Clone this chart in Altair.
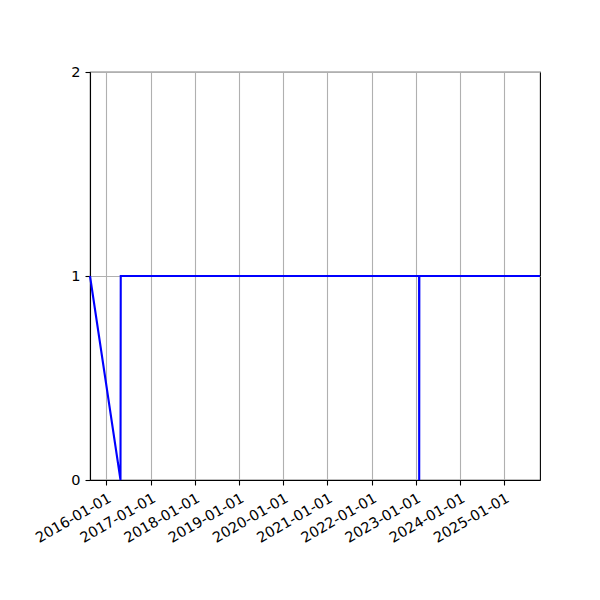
import altair as alt
import pandas as pd

dates = ["2015-08-19", "2016-04-27", "2016-04-29", "2023-01-28", "2023-01-29", "2023-01-30", "2025-10-23"]
values = [1, 0, 1, 1, 0, 1, 1]
tick_years = list(range(2016, 2026))

df = pd.DataFrame({"date": dates, "value": values})

x_ticks = [alt.DateTime(year=y, month=1, date=1, utc=True) for y in tick_years]

chart = alt.Chart(df).mark_line(color="#0000ff", strokeWidth=2.1).encode(
    x=alt.X(
        "date:T",
        title=None,
        scale=alt.Scale(type="utc", domain=[dates[0], dates[-1]], nice=False),
        axis=alt.Axis(
            values=x_ticks,
            labelExpr="utcFormat(datum.value, '%Y-%m-%d')",
            labelAngle=330,
            labelAlign="right",
            labelBaseline="top",
            labelPadding=6,
        ),
    ),
    y=alt.Y(
        "value:Q",
        title=None,
        scale=alt.Scale(domain=[0, 2], nice=False),
        axis=alt.Axis(tickCount=2, labelPadding=5),
    ),
).properties(
    width=450,
    height=408,
    autosize=alt.AutoSizeParams(type="none"),
    padding={"left": 82, "top": 64, "right": 52, "bottom": 112},
).configure_view(
    stroke="black", strokeWidth=1.1
).configure_axis(
    grid=True,
    gridColor="#b0b0b0",
    gridWidth=1.1,
    domainColor="black",
    domainWidth=1.1,
    tickColor="black",
    tickSize=5,
    tickWidth=1.1,
    labelFont="DejaVu Sans",
    labelFontSize=14.5,
    labelColor="black",
    labelOverlap=False,
    labelFlush=False,
)

chart.save("out.html", embed_options={"renderer": "svg", "actions": False})
